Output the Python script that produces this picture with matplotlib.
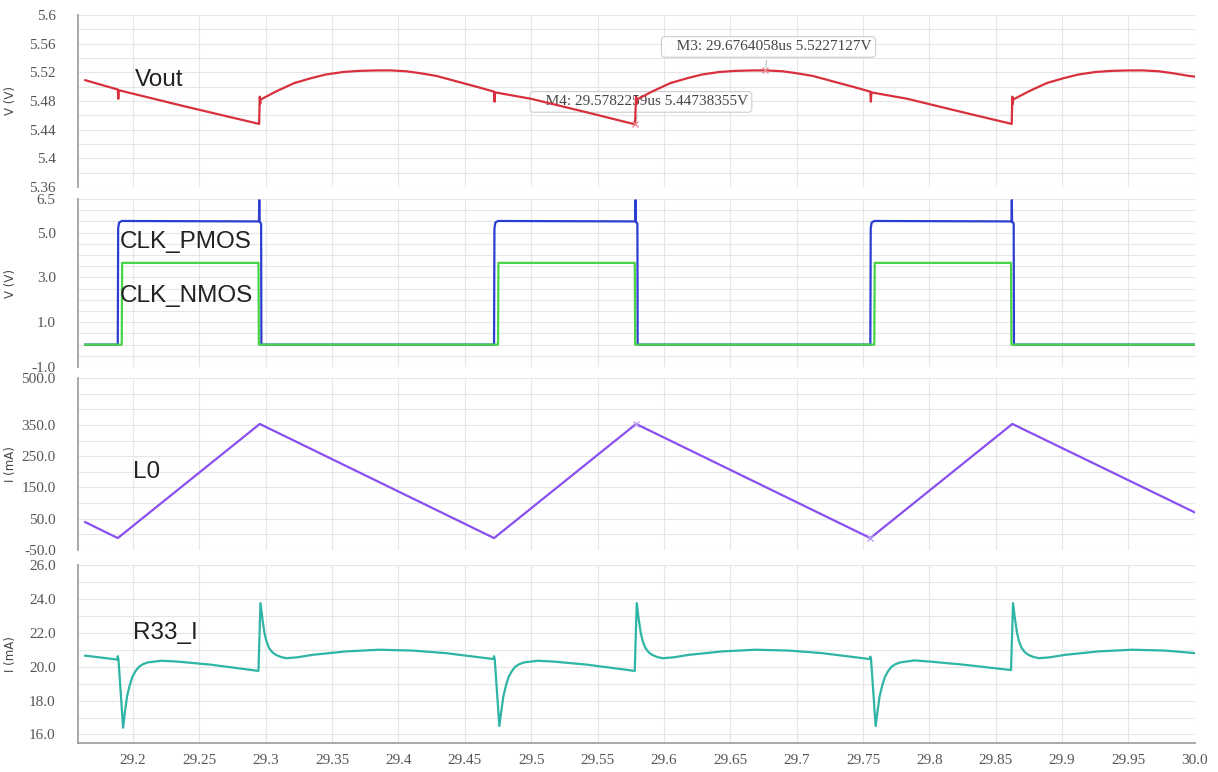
import matplotlib
matplotlib.use("Agg")
import matplotlib.pyplot as plt
from matplotlib.ticker import FixedLocator, MultipleLocator

# Vout (V)
vout_t = [29.164, 29.1885, 29.1889, 29.1893, 29.24, 29.295,
          29.2955, 29.2958, 29.2961, 29.3085, 29.3215, 29.3345, 29.3455, 29.3585, 29.3705,
          29.3825, 29.3935, 29.4055, 29.4155, 29.4285, 29.4405, 29.4505, 29.4605,
          29.472, 29.4724, 29.4728, 29.50, 29.54, 29.5782,
          29.579, 29.5793, 29.5796, 29.592, 29.605, 29.618, 29.629, 29.642, 29.654,
          29.666, 29.6764, 29.689, 29.699, 29.712, 29.724, 29.734, 29.744,
          29.7555, 29.7559, 29.7563, 29.7835, 29.8235, 29.862,
          29.8625, 29.8628, 29.8631, 29.8755, 29.8885, 29.9015, 29.9125, 29.9255, 29.9375,
          29.9495, 29.96, 29.9725, 29.9825, 29.9955, 30.0]
vout_v = [5.509, 5.496, 5.483, 5.495, 5.472, 5.448,
          5.486, 5.476, 5.482, 5.494, 5.505, 5.512, 5.517, 5.5205, 5.522,
          5.5226, 5.5227, 5.5215, 5.519, 5.515, 5.509, 5.504, 5.499,
          5.493, 5.479, 5.492, 5.483, 5.465, 5.4474,
          5.486, 5.476, 5.482, 5.494, 5.505, 5.512, 5.517, 5.5205, 5.522,
          5.5226, 5.5227, 5.5215, 5.519, 5.515, 5.509, 5.504, 5.499,
          5.493, 5.479, 5.492, 5.483, 5.465, 5.448,
          5.486, 5.476, 5.482, 5.494, 5.505, 5.512, 5.517, 5.5205, 5.522,
          5.5226, 5.5227, 5.5215, 5.519, 5.515, 5.514]

# gate drive (V)
pmos_t = [29.164, 29.1885, 29.1888, 29.1895, 29.1915, 29.2949, 29.2951, 29.2953, 29.2965, 29.2967,
          29.472, 29.4723, 29.473, 29.475, 29.5784, 29.5786, 29.5788, 29.58, 29.5802,
          29.7555, 29.7558, 29.7565, 29.7585, 29.8619, 29.8621, 29.8623, 29.8635, 29.8637, 30.0]
pmos_v = [0.0, 0.0, 5.2, 5.45, 5.52, 5.5, 6.45, 5.5, 5.4, 0.0,
          0.0, 5.2, 5.45, 5.52, 5.5, 6.45, 5.5, 5.4, 0.0,
          0.0, 5.2, 5.45, 5.52, 5.5, 6.45, 5.5, 5.4, 0.0, 0.0]
nmos_t = [29.164, 29.1915, 29.1918, 29.2945, 29.2948,
          29.475, 29.4753, 29.578, 29.5783,
          29.7585, 29.7588, 29.8615, 29.8618, 30.0]
nmos_v = [0.0, 0.0, 3.65, 3.65, 0.0,
          0.0, 3.65, 3.65, 0.0,
          0.0, 3.65, 3.65, 0.0, 0.0]

# inductor current (mA)
il_t = [29.164, 29.1885, 29.2955, 29.472, 29.579, 29.7555, 29.8625, 30.0]
il_v = [39, -12, 353, -12, 353, -12, 353, 70]

# R33 current (mA)
r33_t = [29.164, 29.180, 29.188,
         29.1885, 29.189, 29.1925, 29.194, 29.1955, 29.1975, 29.1995, 29.202, 29.2045,
         29.2075, 29.211, 29.2215, 29.2335, 29.2585,
         29.2945, 29.296, 29.2975, 29.299, 29.3005, 29.3025, 29.305, 29.3075, 29.3115,
         29.3155, 29.3235, 29.3355, 29.3605, 29.3855, 29.4105, 29.4355, 29.4715,
         29.472, 29.4725, 29.476, 29.4775, 29.479, 29.481, 29.483, 29.4855, 29.488,
         29.491, 29.4945, 29.505, 29.517, 29.542,
         29.578, 29.5795, 29.581, 29.5825, 29.584, 29.586, 29.5885, 29.591, 29.595,
         29.599, 29.607, 29.619, 29.644, 29.669, 29.694, 29.719, 29.755,
         29.7555, 29.756, 29.7595, 29.761, 29.7625, 29.7645, 29.7665, 29.769, 29.7715,
         29.7745, 29.778, 29.7885, 29.8005, 29.8255,
         29.8615, 29.863, 29.8645, 29.866, 29.8675, 29.8695, 29.872, 29.8745, 29.8785,
         29.8825, 29.8905, 29.9025, 29.9275, 29.9525, 29.9775, 30.0]
r33_v = [20.65, 20.5, 20.42,
         20.62, 20.45, 16.4, 17.4, 18.25, 18.9, 19.4, 19.75, 20.0,
         20.15, 20.25, 20.35, 20.3, 20.12,
         19.75, 23.75, 22.8, 22.0, 21.5, 21.1, 20.85, 20.7, 20.57,
         20.5, 20.55, 20.7, 20.9, 21.0, 20.95, 20.8, 20.45,
         20.62, 20.45, 16.5, 17.4, 18.25, 18.9, 19.4, 19.75, 20.0,
         20.15, 20.25, 20.35, 20.3, 20.12,
         19.75, 23.75, 22.8, 22.0, 21.5, 21.1, 20.85, 20.7, 20.57,
         20.5, 20.55, 20.7, 20.9, 21.0, 20.95, 20.8, 20.45,
         20.6, 20.45, 16.5, 17.4, 18.25, 18.9, 19.4, 19.75, 20.0,
         20.15, 20.25, 20.37, 20.3, 20.12,
         19.8, 23.75, 22.8, 22.0, 21.5, 21.1, 20.85, 20.7, 20.57,
         20.5, 20.55, 20.7, 20.9, 21.0, 20.95, 20.8]

# markers
m3 = (29.6764058, 5.5227127)
m4 = (29.5782259, 5.44738355)

x_ticks = [29.2, 29.25, 29.3, 29.35, 29.4, 29.45, 29.5, 29.55, 29.6,
           29.65, 29.7, 29.75, 29.8, 29.85, 29.9, 29.95, 30.0]
x_labels = ["29.2", "29.25", "29.3", "29.35", "29.4", "29.45", "29.5", "29.55", "29.6",
            "29.65", "29.7", "29.75", "29.8", "29.85", "29.9", "29.95", "30.0"]

vout_ticks = [5.36, 5.4, 5.44, 5.48, 5.52, 5.56, 5.6]
vout_labels = ["5.36", "5.4", "5.44", "5.48", "5.52", "5.56", "5.6"]
clk_ticks = [-1.0, 1.0, 3.0, 5.0, 6.5]
clk_labels = ["-1.0", "1.0", "3.0", "5.0", "6.5"]
il_ticks = [-50, 50, 150, 250, 350, 500]
il_labels = ["-50.0", "50.0", "150.0", "250.0", "350.0", "500.0"]
r33_ticks = [16, 18, 20, 22, 24, 26]
r33_labels = ["16.0", "18.0", "20.0", "22.0", "24.0", "26.0"]

TICK_FONT = "Liberation Serif"
LABEL_FONT = "Liberation Sans"
GRID_C = "#e6e6e6"

fig = plt.figure(figsize=(12.18, 7.72), dpi=100)

left, width = 0.064, 0.917
boxes = [
    [left, 0.7578, width, 0.2228],
    [left, 0.5246, width, 0.2176],
    [left, 0.2876, width, 0.2228],
    [left, 0.0376, width, 0.2306],
]
axs = [fig.add_axes(b) for b in boxes]


def style(ax, ylim, ticks, labels, minor, ylabel, bottom=False):
    ax.set_xlim(29.1585, 30.0)
    ax.set_ylim(*ylim)
    ax.yaxis.set_major_locator(FixedLocator(ticks))
    ax.set_yticklabels(labels)
    ax.yaxis.set_minor_locator(MultipleLocator(minor))
    ax.xaxis.set_major_locator(FixedLocator(x_ticks))
    ax.grid(True, which="both", axis="y", color=GRID_C, lw=0.8)
    ax.grid(True, which="major", axis="x", color=GRID_C, lw=0.8)
    ax.set_axisbelow(True)
    ax.tick_params(axis="y", which="both", length=0, pad=16, labelsize=11,
                   labelcolor="#555555")
    for lab in ax.get_yticklabels():
        lab.set_fontfamily(TICK_FONT)
    for s in ["top", "right"]:
        ax.spines[s].set_visible(False)
    ax.spines["left"].set_color("#9a9a9a")
    ax.spines["left"].set_linestyle((0, (2, 1)))
    ax.spines["left"].set_linewidth(1.2)
    if bottom:
        ax.spines["bottom"].set_color("#9a9a9a")
        ax.spines["bottom"].set_linestyle((0, (2, 1)))
        ax.spines["bottom"].set_linewidth(1.2)
        ax.set_xticklabels(x_labels)
        ax.tick_params(axis="x", length=0, pad=8, labelsize=11, labelcolor="#555555")
        for lab in ax.get_xticklabels():
            lab.set_fontfamily(TICK_FONT)
    else:
        ax.spines["bottom"].set_visible(False)
        ax.tick_params(axis="x", length=0, labelbottom=False)
    ax.set_ylabel(ylabel, fontsize=8.5, family="DejaVu Sans", color="#444444")
    ax.yaxis.set_label_coords(-0.055, 0.5)


# Vout
ax = axs[0]
style(ax, (5.36, 5.6), vout_ticks, vout_labels, 0.02, "V (V)")
ax.plot(vout_t, vout_v, color="#d8303d", lw=1.6, zorder=3)
ax.plot(*m3, marker="x", ms=5, color="#e88a94", zorder=4)
ax.plot(*m4, marker="x", ms=5, color="#e88a94", zorder=4)
box = dict(boxstyle="round,pad=0.25", fc="white", ec="#c4c4c4", lw=0.8, alpha=0.85)
ax.annotate("   M3: 29.6764058us 5.5227127V", xy=m3, xytext=(29.6010, 5.5554),
            va="center", ha="left", fontsize=11, family=TICK_FONT, color="#444444",
            bbox=box, arrowprops=dict(arrowstyle="-", color="#b8c8c8", lw=0.8), zorder=2)
ax.annotate("   M4: 29.5782259us 5.44738355V", xy=m4, xytext=(29.5020, 5.4787),
            va="center", ha="left", fontsize=11, family=TICK_FONT, color="#444444",
            bbox=box, arrowprops=dict(arrowstyle="-", color="#b8c8c8", lw=0.8), zorder=2)
ax.text(29.2015, 5.509, "Vout", fontsize=17.5, family=LABEL_FONT, color="#222222",
        va="center", ha="left")

# gate drive
ax = axs[1]
style(ax, (-1.0, 6.5), clk_ticks, clk_labels, 0.5, "V (V)")
ax.plot(pmos_t, pmos_v, color="#2c3ed2", lw=1.6, zorder=3)
ax.plot(nmos_t, nmos_v, color="#47d447", lw=1.6, zorder=4)
ax.text(29.1902, 4.56, "CLK_PMOS", fontsize=17.5, family=LABEL_FONT, color="#222222",
        va="center", ha="left", zorder=5)
ax.text(29.1902, 2.17, "CLK_NMOS", fontsize=17.5, family=LABEL_FONT, color="#222222",
        va="center", ha="left", zorder=5)

# inductor current
ax = axs[2]
style(ax, (-50, 500), il_ticks, il_labels, 50, "I (mA)")
ax.plot(il_t, il_v, color="#8a4ff0", lw=1.6, zorder=3)
ax.plot(il_t[4], il_v[4], marker="x", ms=5, color="#b598f0", zorder=4)
ax.plot(il_t[5], il_v[5], marker="x", ms=5, color="#b598f0", zorder=4)
ax.text(29.2002, 199, "L0", fontsize=17.5, family=LABEL_FONT, color="#222222",
        va="center", ha="left")

# R33 current
ax = axs[3]
style(ax, (15.5, 26.0), r33_ticks, r33_labels, 1.0, "I (mA)", bottom=True)
ax.plot(r33_t, r33_v, color="#2fb5a6", lw=1.6, zorder=3)
ax.text(29.2002, 21.98, "R33_I", fontsize=17.5, family=LABEL_FONT, color="#222222",
        va="center", ha="left")

fig.savefig("out.png", dpi=100)
